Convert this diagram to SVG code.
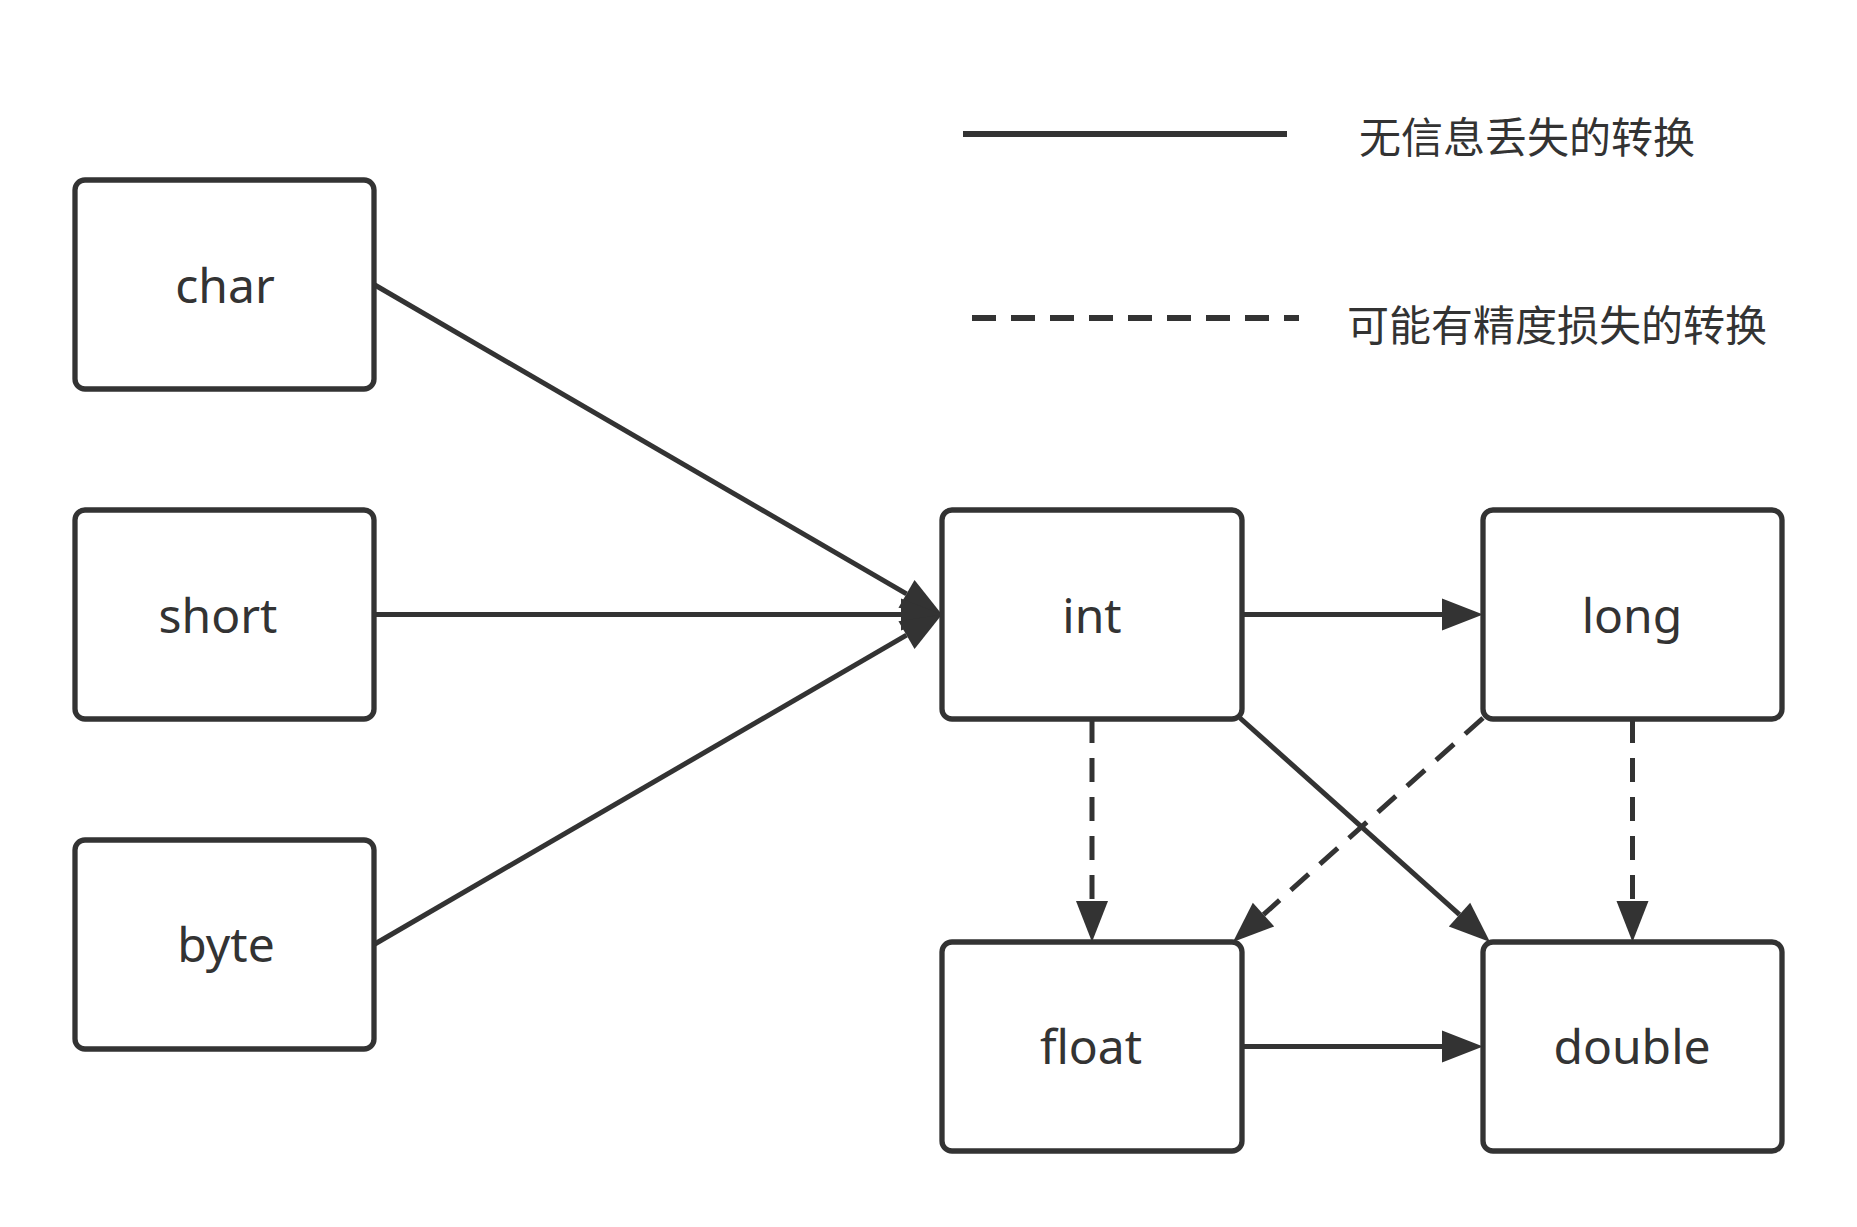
<svg xmlns="http://www.w3.org/2000/svg" width="1857" height="1227" viewBox="0 0 1857 1227">
<style>
.box{fill:#fff;stroke:#333;stroke-width:5.3}
.lbl{font-family:"Noto Sans","Open Sans","Liberation Sans",sans-serif;font-size:48px;fill:#333;text-anchor:middle}
.leg{font-family:"Noto Sans CJK SC","Noto Sans",sans-serif;font-size:42px;fill:#333}
.c{fill:none;stroke:#333;stroke-width:5}
.d{stroke-dasharray:24 15}
</style>
<defs>
<marker id="ah" markerUnits="userSpaceOnUse" markerWidth="44" markerHeight="34" refX="0" refY="16" orient="auto" overflow="visible">
<path d="M0,0 L41,16 L0,32 Z" fill="#333"/>
</marker>
</defs>
<rect width="1857" height="1227" fill="#fff"/>
<g id="legend">
<line x1="963" y1="134" x2="1287" y2="134" stroke="#333" stroke-width="6"/>
<text class="leg" x="1359" y="153">无信息丢失的转换</text>
<line x1="972" y1="318" x2="1299" y2="318" stroke="#333" stroke-width="6" stroke-dasharray="24 15"/>
<text class="leg" x="1347" y="341">可能有精度损失的转换</text>
</g>
<g id="connectors">
<path class="c" d="M374,284.5 L906.5,593.9" marker-end="url(#ah)"/>
<path class="c" d="M374,614.5 L901,614.5" marker-end="url(#ah)"/>
<path class="c" d="M374,944.5 L906.5,635.1" marker-end="url(#ah)"/>
<path class="c" d="M1242,614.5 L1442,614.5" marker-end="url(#ah)"/>
<path class="c" d="M1242,1046.5 L1442,1046.5" marker-end="url(#ah)"/>
<path class="c d" d="M1092,719 L1092,901" marker-end="url(#ah)"/>
<path class="c d" d="M1632.5,719 L1632.5,901" marker-end="url(#ah)"/>
<path class="c" d="M1240,718 L1459.5,914.6" marker-end="url(#ah)"/>
<path class="c d" d="M1483,718 L1263.5,914.6" marker-end="url(#ah)"/>
</g>
<g id="char"><rect class="box" x="75" y="180" width="299" height="209" rx="10"/><text class="lbl" x="225" y="303">char</text></g>
<g id="short"><rect class="box" x="75" y="510" width="299" height="209" rx="10"/><text class="lbl" x="218" y="633">short</text></g>
<g id="byte"><rect class="box" x="75" y="840" width="299" height="209" rx="10"/><text class="lbl" x="226" y="962">byte</text></g>
<g id="int"><rect class="box" x="942" y="510" width="300" height="209" rx="10"/><text class="lbl" x="1092" y="633">int</text></g>
<g id="long"><rect class="box" x="1483" y="510" width="299" height="209" rx="10"/><text class="lbl" x="1632" y="633">long</text></g>
<g id="float"><rect class="box" x="942" y="942" width="300" height="209" rx="10"/><text class="lbl" x="1091" y="1064">float</text></g>
<g id="double"><rect class="box" x="1483" y="942" width="299" height="209" rx="10"/><text class="lbl" x="1632" y="1064">double</text></g>
</svg>
